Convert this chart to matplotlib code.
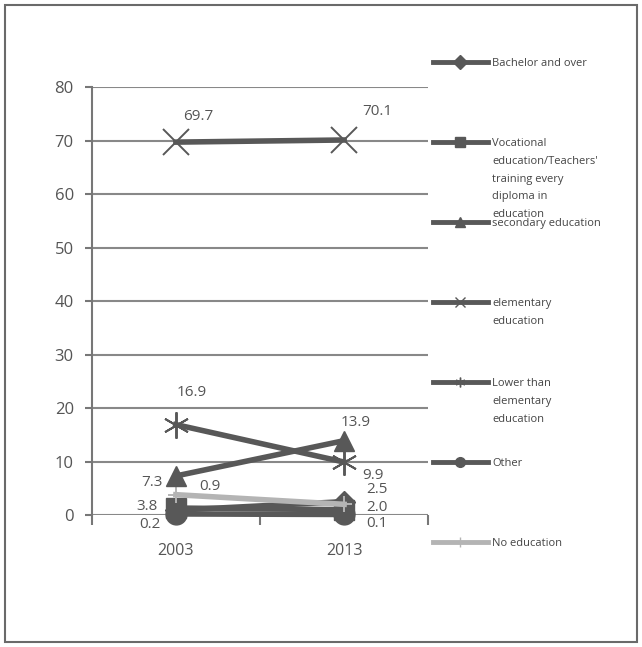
import matplotlib.pyplot as plt
from matplotlib.lines import Line2D
from matplotlib.patches import Rectangle

years = ['2003', '2013']
series_names = ['Bachelor and over',
                'Vocational\neducation/Teachers\'\ntraining every\ndiploma in\neducation',
                'secondary education',
                'elementary\neducation',
                'Lower than\nelementary\neducation',
                'Other',
                'No education']
bachelor = [0.9, 2.5]
vocational = [1.3, 1.0]
secondary = [7.3, 13.9]
elementary = [69.7, 70.1]
lower_elem = [16.9, 9.9]
other = [0.2, 0.1]
no_edu = [3.8, 2.0]
values = [bachelor, vocational, secondary, elementary, lower_elem, other, no_edu]
show_labels = [True, False, True, True, True, True, True]

dark = '#585858'
light = '#b4b4b4'
txt = '#555555'
markers = ['D', 's', '^', 'x', (6, 2, 0), 'o', '+']
msizes = [11, 14, 14, 19, 19, 15, 12]
colors = [dark, dark, dark, dark, dark, dark, light]
# label offsets in pixels (x, y) for each point
offsets = [[(34, 24), (33, 12)],
           None,
           [(-24, -7), (12, 18)],
           [(22, 26), (33, 28)],
           [(16, 32), (29, -13)],
           [(-26, -11), (33, -9)],
           [(-29, -12), (33, -3)]]

plt.rcParams['font.family'] = ['Open Sans', 'DejaVu Sans']
fig = plt.figure(figsize=(6.42, 6.47), dpi=100)
fig.add_artist(Rectangle((0.008, 0.008), 0.984, 0.984, transform=fig.transFigure,
                         fill=False, edgecolor='#6a6a6a', linewidth=1.5))
ax = fig.add_axes([0.143, 0.204, 0.524, 0.6615])

x = list(range(len(years)))
order = [1, 0, 5, 6, 2, 4, 3]
for i in order:
    mew = 1.4 if markers[i] in ('x', '+') or isinstance(markers[i], tuple) else 1
    ax.plot(x, values[i], color=colors[i], linewidth=4, marker=markers[i],
            markersize=msizes[i], markeredgewidth=mew, markeredgecolor=colors[i],
            zorder=3 + order.index(i), clip_on=False)
    if show_labels[i]:
        for j, v in enumerate(values[i]):
            dx, dy = offsets[i][j]
            ax.annotate(f'{v:.1f}', (x[j], v), xytext=(dx * 0.72, dy * 0.72),
                        textcoords='offset points', ha='center', va='center',
                        fontsize=11, color=txt, zorder=20)

ax.set_xlim(-0.5, 1.5)
ax.set_ylim(0, 80)
ax.set_yticks(range(0, 81, 10))
ax.set_xticks(x)
ax.set_xticklabels(years)
ax.set_xticks([-0.5, 0.5, 1.5], minor=True)
ax.tick_params(axis='x', which='major', length=0, pad=20, labelsize=11.5, labelcolor=txt)
ax.tick_params(axis='x', which='minor', length=7, width=1.5, color='#777777', direction='out')
ax.tick_params(axis='y', length=5, width=1.5, color='#777777', labelsize=12,
               labelcolor=txt, pad=8)
ax.grid(axis='y', color='#888888', linewidth=1.5)
ax.set_axisbelow(True)
for s in ['top', 'right', 'bottom']:
    ax.spines[s].set_visible(False)
ax.spines['left'].set_color('#777777')
ax.spines['left'].set_linewidth(1.5)

# legend drawn by hand to match the spaced layout of the original
leg_top = 1 - 62 / 647
leg_step = 80 / 647
for i, name in enumerate(series_names):
    yy = leg_top - i * leg_step
    fig.add_artist(Line2D([433 / 642, 460 / 642, 488 / 642], [yy, yy, yy],
                          transform=fig.transFigure, color=colors[i], linewidth=3.5,
                          marker=markers[i], markevery=[1], markersize=7,
                          markeredgecolor=colors[i]))
    fig.text(492 / 642, yy + 4 / 647, name, ha='left', va='top', fontsize=8,
             color='#444444', linespacing=1.85)

fig.savefig('out.png', dpi=100)
